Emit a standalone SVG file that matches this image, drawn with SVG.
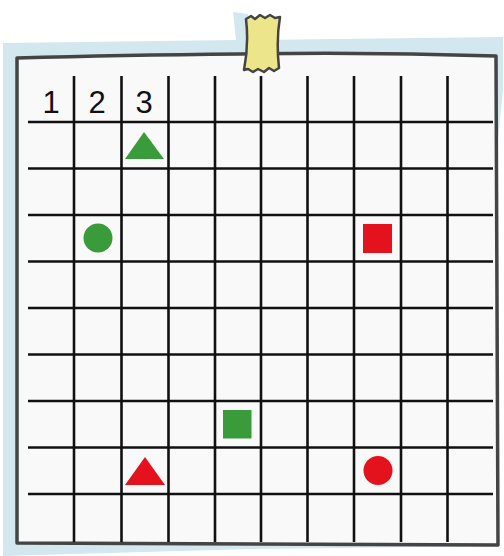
<svg xmlns="http://www.w3.org/2000/svg" width="504" height="556" viewBox="0 0 504 556">
<style>
.grid line{stroke:#111;stroke-width:2.6}
.num{font-family:"Liberation Sans",Arial,sans-serif;font-size:31px;fill:#111;text-anchor:middle}
.g{fill:#3a9b3a}
.r{fill:#e3121c}
</style>
<rect width="504" height="556" fill="#ffffff"/>
<g id="backing">
<path d="M3,43 L236,40 L233,12 L248,14 L252,40 L503,37 L503,90 L497,150 L497,546 L250,549 L3,556 Z" fill="#d3e7ee"/>
</g>
<g id="paper">
<path d="M17,58 Q120,55 240,54 Q370,52 496,56 Q498,300 498,545 Q260,545 17,543 Q16,300 17,58 Z" fill="#f9f9f9" stroke="#444" stroke-width="3.5" stroke-linejoin="round"/>
</g>
<g id="grid" class="grid">
<line x1="74" y1="76" x2="74" y2="542"/>
<line x1="121.5" y1="76" x2="121.5" y2="542"/>
<line x1="168.5" y1="76" x2="168.5" y2="542"/>
<line x1="215" y1="76" x2="215" y2="542"/>
<line x1="261" y1="76" x2="261" y2="542"/>
<line x1="307.5" y1="76" x2="307.5" y2="542"/>
<line x1="354" y1="76" x2="354" y2="542"/>
<line x1="401" y1="76" x2="401" y2="542"/>
<line x1="447.5" y1="76" x2="447.5" y2="542"/>
<line x1="28" y1="122" x2="493" y2="122"/>
<line x1="28" y1="168.5" x2="493" y2="168.5"/>
<line x1="28" y1="215" x2="493" y2="215"/>
<line x1="28" y1="261.5" x2="493" y2="261.5"/>
<line x1="28" y1="308" x2="493" y2="308"/>
<line x1="28" y1="354.5" x2="493" y2="354.5"/>
<line x1="28" y1="401" x2="493" y2="401"/>
<line x1="28" y1="447.5" x2="493" y2="447.5"/>
<line x1="28" y1="494" x2="493" y2="494"/>
</g>
<g id="labels">
<text class="num" x="51" y="113">1</text>
<text class="num" x="97" y="113">2</text>
<text class="num" x="144" y="113">3</text>
</g>
<g id="tape">
<path d="M246,19 L251,16 L255,19 L260,15 L265,18 L270,15 L275,18 L280,17 Q276,40 279,68 L274,71 L269,68 L264,72 L258,69 L253,72 L248,69 L244,70 Q249,45 246,19 Z" fill="#ede58a" stroke="#444" stroke-width="2.5" stroke-linejoin="round"/>
</g>
<g id="shapes">
<polygon class="g" points="144,132 125,159 164,159"/>
<circle class="g" cx="98" cy="238" r="14.5"/>
<rect class="r" x="363" y="224" width="29" height="29"/>
<rect class="g" x="223" y="410" width="28.5" height="28.5"/>
<polygon class="r" points="145,457 125,485 165,485"/>
<circle class="r" cx="378" cy="470.5" r="14.5"/>
</g>
</svg>
